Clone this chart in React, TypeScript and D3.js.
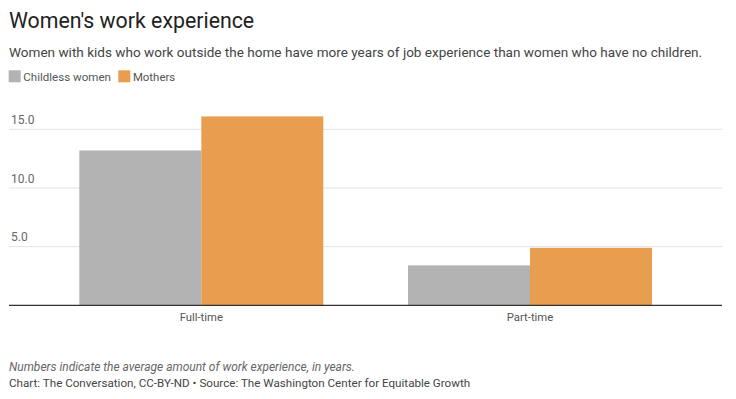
import { useEffect, useRef } from "react";
import * as d3 from "d3";

const categories = ["Full-time", "Part-time"];
const seriesNames = ["Childless women", "Mothers"];
const childless = [13.2, 3.4];
const mothers = [16.1, 4.9];
const yTicks = [5, 10, 15];
const colors = ["#b3b3b3", "#e99e4f"];

const W = 736;
const H = 399;

// shrink/grow the font so a label spans the width it has in the reference
function fitText(sel: d3.Selection<SVGTextElement, any, any, any>, size: number, target: number) {
    sel.style("font-size", size + "px");
    const len = sel.node()!.getComputedTextLength();
    if (len > 0) sel.style("font-size", (size * target) / len + "px");
}

export default function App() {
    const svgRef = useRef<SVGSVGElement | null>(null);

    useEffect(() => {
        const svg = d3.select(svgRef.current!);
        svg.selectAll("*").remove();
        const font = "Roboto, 'Noto Sans', sans-serif";

        // plot area
        const left = 9;
        const right = 722;
        const base = 305.3;

        const y = d3.scaleLinear().domain([0, 15]).range([base, 129.3]);

        // group band scale - tuned so the groups sit where the reference has them
        const pi = 0.2577;
        const x0 = d3
            .scaleBand<string>()
            .domain(categories)
            .range([36.95, 694.35])
            .paddingInner(pi)
            .paddingOuter(pi / 2);
        const x1 = d3
            .scaleBand<string>()
            .domain(seriesNames)
            .range([0, x0.bandwidth()]);

        // title + subtitle
        const title = svg.append("text")
            .attr("x", 9)
            .attr("y", 28)
            .style("font-family", font)
            .style("fill", "#222")
            .text("Women's work experience");
        fitText(title, 22, 245.3);

        const sub = svg.append("text")
            .attr("x", 9)
            .attr("y", 57)
            .style("font-family", font)
            .style("fill", "#444")
            .text("Women with kids who work outside the home have more years of job experience than women who have no children.");
        fitText(sub, 14, 694);

        // legend
        const legendWidths = [87.7, 42.4];
        const legend = svg.append("g").attr("transform", "translate(8.7,70.3)");
        let lx = 0;
        seriesNames.forEach((name, i) => {
            legend.append("rect")
                .attr("x", lx)
                .attr("y", 0)
                .attr("width", 12)
                .attr("height", 12)
                .attr("fill", colors[i]);
            const t = legend.append("text")
                .attr("x", lx + 14.6)
                .attr("y", 10.4)
                .style("font-family", font)
                .style("fill", "#555")
                .text(name);
            fitText(t, 12, legendWidths[i]);
            lx += 14.6 + legendWidths[i] + 7.3;
        });

        // gridlines + tick labels
        const grid = svg.append("g");
        yTicks.forEach((v) => {
            grid.append("line")
                .attr("x1", left)
                .attr("x2", right)
                .attr("y1", y(v))
                .attr("y2", y(v))
                .attr("stroke", "#e3e3e3")
                .attr("stroke-width", 1);
            grid.append("text")
                .attr("x", 11)
                .attr("y", y(v) - 5.3)
                .style("font-family", font)
                .style("font-size", "12px")
                .style("fill", "#666")
                .text(v.toFixed(1));
        });

        // bars
        const rows = categories.map((c, i) => ({
            cat: c,
            vals: [childless[i], mothers[i]],
        }));
        const groups = svg.append("g")
            .selectAll("g")
            .data(rows)
            .join("g")
            .attr("transform", (d) => `translate(${x0(d.cat)},0)`);
        groups.selectAll("rect")
            .data((d) => d.vals.map((v, j) => ({ name: seriesNames[j], v, j })))
            .join("rect")
            .attr("x", (d) => x1(d.name)!)
            .attr("y", (d) => y(d.v))
            .attr("width", x1.bandwidth())
            .attr("height", (d) => base - y(d.v))
            .attr("fill", (d) => colors[d.j]);

        // baseline
        svg.append("line")
            .attr("x1", left)
            .attr("x2", right)
            .attr("y1", base)
            .attr("y2", base)
            .attr("stroke", "#333")
            .attr("stroke-width", 1.2);

        // category labels
        const catWidths = [43.3, 46.6];
        categories.forEach((c, i) => {
            const t = svg.append("text")
                .attr("x", x0(c)! + x0.bandwidth() / 2)
                .attr("y", 320.7)
                .attr("text-anchor", "middle")
                .style("font-family", font)
                .style("fill", "#555")
                .text(c);
            fitText(t, 12, catWidths[i]);
        });

        // footer notes
        const note = svg.append("text")
            .attr("x", 9)
            .attr("y", 370.5)
            .style("font-family", font)
            .style("font-style", "italic")
            .style("fill", "#666")
            .text("Numbers indicate the average amount of work experience, in years.");
        fitText(note, 12, 346);
        const credit = svg.append("text")
            .attr("x", 9)
            .attr("y", 387)
            .style("font-family", font)
            .style("fill", "#444")
            .text("Chart: The Conversation, CC-BY-ND \u2022 Source: The Washington Center for Equitable Growth");
        fitText(credit, 12, 461.7);
    }, []);

    return (
        <svg
            ref={svgRef}
            width={W}
            height={H}
            style={{ position: "absolute", left: 0, top: 0, background: "#fff" }}
        />
    );
}
